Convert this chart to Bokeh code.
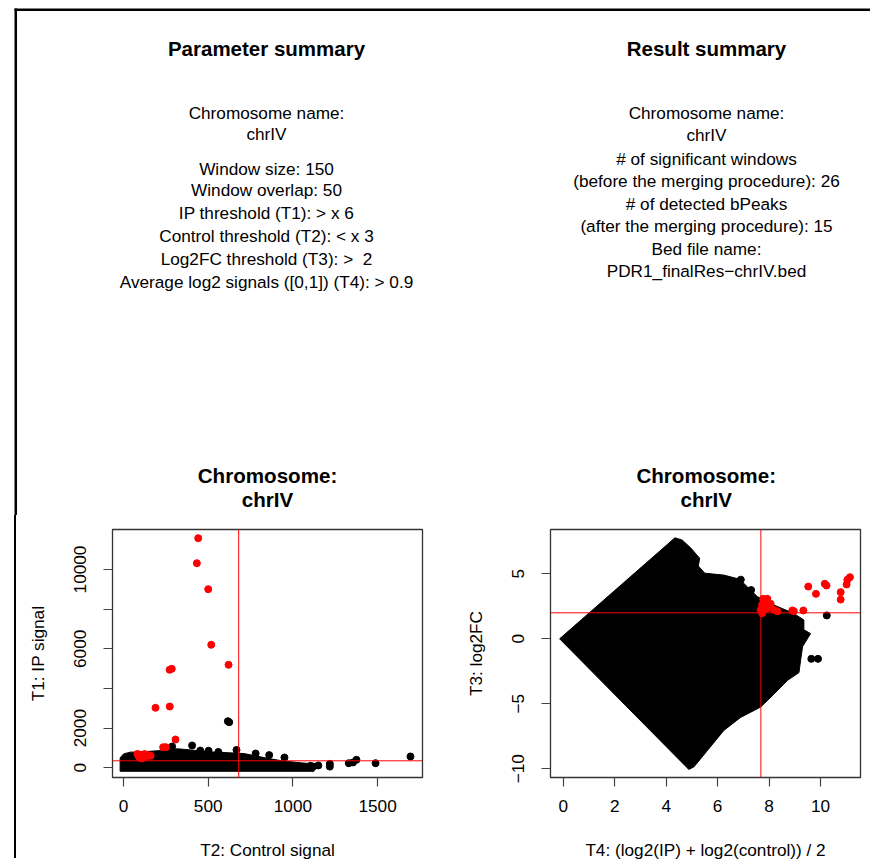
from bokeh.plotting import figure
from bokeh.layouts import column, row
from bokeh.models import Range1d, Span, BoxAnnotation, FixedTicker, Div
from bokeh.embed import file_html
from bokeh.resources import INLINE
from bokeh.core.properties import value

FONT = "Liberation Sans"

# ---------------- data ----------------
param_title = "Parameter summary"
param_lines = ["Chromosome name:", "chrIV", "Window size: 150", "Window overlap: 50",
               "IP threshold (T1): > x 6", "Control threshold (T2): < x 3",
               "Log2FC threshold (T3): >\u00a0 2", "Average log2 signals ([0,1]) (T4): > 0.9"]
result_title = "Result summary"
result_lines = ["Chromosome name:", "chrIV", "# of significant windows",
                "(before the merging procedure): 26", "# of detected bPeaks",
                "(after the merging procedure): 15", "Bed file name:",
                "PDR1_finalRes\u2212chrIV.bed"]
panel_title = ["Chromosome:", "chrIV"]

# left panel: IP signal vs control signal
ip_ctrl_dense_x = [-20, -20, 0, 40, 100, 220, 320, 420, 520, 620, 710, 770, 850, 930, 1005, 1060, 1125, 1125]
ip_ctrl_dense_y = [-176, 500, 700, 790, 800, 870, 960, 880, 800, 760, 720, 620, 480, 360, 290, 240, 200, -176]
ctrl_black = [405, 453, 502, 560, 667, 616, 624, 287, 780, 860, 950, 1694, 1488, 1375, 1330, 1355, 1218, 1218, 1104, 1150, 1120]
ip_black = [1125, 870, 860, 800, 900, 2350, 2300, 1075, 720, 640, 520, 570, 232, 403, 232, 270, 200, 60, 100, 120, 60]
ctrl_red = [441, 433, 500, 518, 620, 272, 285, 189, 273, 307, 234, 250,
            82, 90, 100, 108, 115, 125, 135, 148, 160, 95, 105, 120, 140, 88]
ip_red = [11579, 10318, 9007, 6203, 5194, 4942, 4992, 3026, 3091, 1427, 1039, 1039,
          700, 640, 560, 470, 620, 690, 600, 610, 610, 520, 660, 540, 650, 600]
ctrl_threshold = 680
ip_threshold = 353

# right panel: log2FC vs mean log2 signal
ma_dense_x = [-0.14, 4.34, 4.62, 4.95, 5.3, 5.25, 5.5, 6.24, 6.83, 7.0, 7.28, 7.54, 8.19, 8.96, 9.35,
              9.35, 9.61, 9.3, 9.22, 9.16, 8.71, 8.19, 7.67, 6.89, 6.24, 5.6, 5.08, 4.88]
ma_dense_y = [0.0, 7.77, 7.6, 7.0, 6.2, 5.6, 5.05, 4.9, 4.6, 4.3, 3.75, 3.25, 2.6, 1.95, 1.45,
              0.7, 0.4, -0.6, -1.7, -2.6, -3.2, -4.25, -5.25, -6.05, -7.05, -8.6, -9.85, -10.05]
a_black = [10.24, 9.64, 9.9, 6.9, 7.3]
m_black = [1.8, -1.54, -1.54, 4.55, 3.75]
a_red = [11.14, 11.04, 11.01, 10.78, 10.78, 10.16, 10.23, 9.82, 9.52, 9.33, 8.96, 8.9, 8.32,
         8.19, 7.93, 7.77, 8.06, 7.73, 7.67, 7.73, 7.9, 7.85, 8.0]
m_red = [4.74, 4.54, 4.18, 3.59, 3.02, 4.23, 4.1, 3.46, 4.02, 2.18, 2.12, 2.18, 2.12,
         2.23, 3.08, 3.08, 2.69, 2.64, 2.23, 1.97, 2.31, 2.85, 2.45]
a_threshold = 7.68
m_threshold = 2.0

# ---------------- layout ----------------
TOP_W, TOP_H = 870, 515
param_x, result_x = 266, 706
title_y = 48
param_y = [112, 133, 168, 189, 212, 235.5, 258, 281.5]
result_y = [112, 134, 158, 180.5, 203, 225.5, 248, 270.5]
panel_title_y = [475, 499]
panel_x = [267, 705.7]

top = figure(width=TOP_W, height=TOP_H, x_range=Range1d(0, TOP_W), y_range=Range1d(TOP_H, 0),
             output_backend="svg", toolbar_location=None, min_border=0)
top.axis.visible = False
top.grid.visible = False
top.outline_line_color = None

def texts(fig, xs, ys, t, size, bold=False):
    fig.text(x=xs, y=ys, text=t, text_font=value(FONT), text_font_size=size,
             text_align="center", text_baseline="middle", text_color="black",
             text_font_style="bold" if bold else "normal")

texts(top, [param_x], [title_y], [param_title], "20.5px", True)
texts(top, [result_x], [title_y], [result_title], "20.5px", True)
texts(top, [param_x] * len(param_lines), param_y, param_lines, "17.2px")
texts(top, [result_x] * len(result_lines), result_y, result_lines, "17.2px")
for px in panel_x:
    texts(top, [px, px], panel_title_y, panel_title, "20.6px", True)

top.add_layout(BoxAnnotation(left=14, right=TOP_W, top=8, bottom=10.5, fill_color="black",
                             fill_alpha=1, line_color=None))
top.add_layout(BoxAnnotation(left=14, right=16.5, top=8, bottom=TOP_H, fill_color="black",
                             fill_alpha=1, line_color=None))

BOT_H = 343
spacer = Div(text="", width=16, height=BOT_H, margin=0,
             styles={"background": "linear-gradient(to right, transparent 14px, black 14px, "
                                   "black 16.5px, transparent 16.5px)"})


def panel(xr, yr, left_border, right_border, xticks, yticks, ylabels, xlabel, ylabel):
    p = figure(frame_width=310, frame_height=248, min_border_left=left_border,
               min_border_right=right_border, min_border_top=14, min_border_bottom=81,
               x_range=xr, y_range=yr, output_backend="svg", toolbar_location=None)
    p.grid.visible = False
    p.outline_line_color = "#333333"
    p.outline_line_width = 1.3
    p.xaxis.ticker = FixedTicker(ticks=xticks)
    p.yaxis.ticker = FixedTicker(ticks=yticks)
    p.yaxis.major_label_overrides = ylabels
    p.yaxis.major_label_orientation = "vertical"
    for ax in p.xaxis + p.yaxis:
        ax.axis_line_color = None
        ax.major_tick_out = 9
        ax.major_tick_in = 0
        ax.minor_tick_line_color = None
        ax.major_tick_line_color = "#444444"
        ax.major_tick_line_width = 1.2
        ax.major_label_text_font = FONT
        ax.major_label_text_font_size = "17.2px"
        ax.major_label_text_color = "black"
        ax.axis_label_text_font = FONT
        ax.axis_label_text_font_size = "17.2px"
        ax.axis_label_text_font_style = "normal"
        ax.axis_label_text_color = "black"
    p.xaxis.major_label_standoff = 13
    p.yaxis.major_label_standoff = 17
    p.xaxis.axis_label = xlabel
    p.yaxis.axis_label = ylabel
    p.xaxis.axis_label_standoff = 25
    p.yaxis.axis_label_standoff = 24
    return p

pl = panel(Range1d(-65, 1765), Range1d(-489, 12017), 96, 24,
           [0, 500, 1000, 1500], [0, 2000, 4000, 6000, 8000, 10000],
           {4000: "", 8000: ""}, "T2: Control signal", "T1: IP signal")
pl.patch(ip_ctrl_dense_x, ip_ctrl_dense_y, color="black")
pl.scatter(ctrl_black, ip_black, size=7, color="black")
pl.scatter(ctrl_red, ip_red, size=7, color="#FF0000")
pl.add_layout(Span(location=ctrl_threshold, dimension="height", line_color="#FF0000", line_width=1))
pl.add_layout(Span(location=ip_threshold, dimension="width", line_color="#FF0000", line_width=1))

pr = panel(Range1d(-0.494, 11.55), Range1d(-10.67, 8.41), 104, 10,
           [0, 2, 4, 6, 8, 10], [-10, -5, 0, 5],
           {-10: "\u221210", -5: "\u22125"}, "T4: (log2(IP) + log2(control)) / 2", "T3: log2FC")
pr.patch(ma_dense_x, ma_dense_y, color="black")
pr.scatter(a_black, m_black, size=7, color="black")
pr.scatter(a_red, m_red, size=7, color="#FF0000")
pr.add_layout(Span(location=a_threshold, dimension="height", line_color="#FF0000", line_width=1))
pr.add_layout(Span(location=m_threshold, dimension="width", line_color="#FF0000", line_width=1))

layout = column(top, row(spacer, pl, pr))
open("out.html", "w").write(file_html(layout, INLINE))
